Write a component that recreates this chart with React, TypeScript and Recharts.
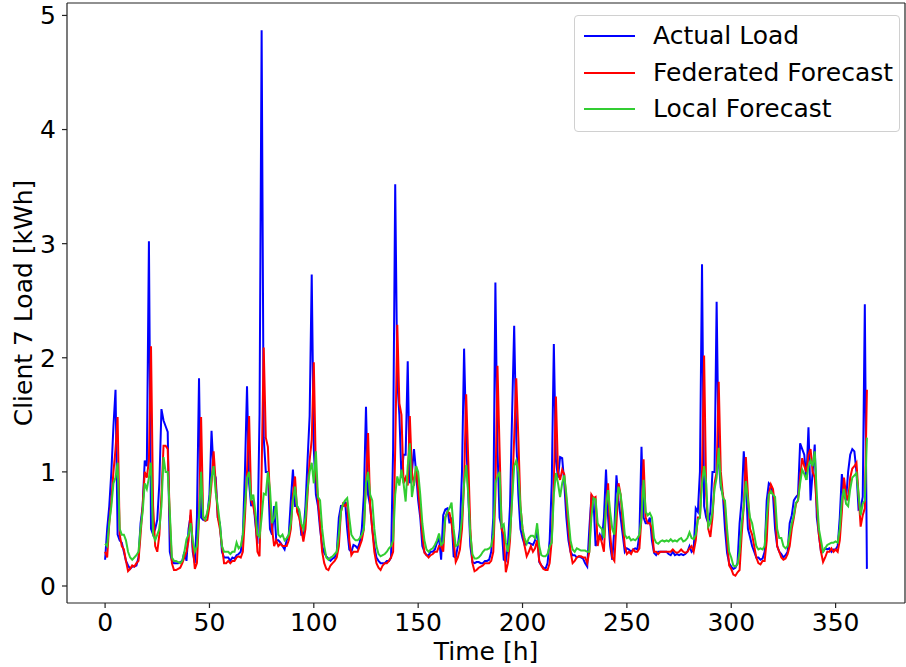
import React from "react";
import { LineChart, Line, XAxis, YAxis } from "recharts";

// hourly values (h = 0 .. 365)
const actualLoad = [
  0.23, 0.5, 0.7, 1.0, 1.4, 1.72, 0.45, 0.4, 0.38, 0.3,
  0.22, 0.18, 0.15, 0.17, 0.17, 0.18, 0.25, 0.55, 0.7, 1.1,
  1.05, 3.02, 0.5, 0.45, 0.5, 0.58, 0.9, 1.55, 1.45, 1.4,
  1.35, 0.3, 0.22, 0.2, 0.2, 0.2, 0.21, 0.22, 0.3, 0.22,
  0.5, 0.62, 0.3, 0.2, 0.6, 1.82, 0.6, 0.58, 0.6, 0.62,
  0.8, 1.36, 1.0, 0.95, 0.6, 0.55, 0.3, 0.25, 0.25, 0.25,
  0.22, 0.25, 0.24, 0.27, 0.28, 0.3, 0.45, 1.0, 1.75, 0.9,
  0.7, 0.75, 0.55, 0.37, 1.5, 4.87, 1.3, 1.0, 1.0, 0.5,
  0.45, 0.7, 0.4, 0.4, 0.38, 0.35, 0.32, 0.4, 0.45, 0.75,
  1.02, 0.7, 0.7, 0.65, 0.45, 0.45, 0.7, 1.1, 1.49, 2.73,
  1.2, 0.8, 0.7, 0.5, 0.35, 0.29, 0.26, 0.24, 0.22, 0.24,
  0.25, 0.3, 0.6, 0.7, 0.7, 0.74, 0.5, 0.32, 0.3, 0.36,
  0.35, 0.33, 0.38, 0.5, 0.8, 1.57, 0.8, 0.7, 0.5, 0.35,
  0.25, 0.22, 0.2, 0.2, 0.2, 0.22, 0.22, 0.25, 1.2, 3.52,
  1.8, 1.5, 0.95, 1.15, 1.15, 1.97, 0.9, 1.0, 1.2, 1.0,
  0.75, 0.6, 0.35, 0.3, 0.27, 0.27, 0.3, 0.3, 0.32, 0.38,
  0.42, 0.23, 0.62, 0.67, 0.68, 0.55, 0.6, 0.26, 0.25, 0.35,
  0.5, 1.0, 2.08, 1.3, 0.8, 0.35, 0.21, 0.2, 0.21, 0.21,
  0.2, 0.2, 0.22, 0.22, 0.23, 0.3, 0.6, 2.66, 1.2, 0.6,
  0.52, 0.23, 0.22, 0.35, 0.7, 1.5, 2.28, 1.3, 0.8, 0.5,
  0.42, 0.36, 0.38, 0.38, 0.37, 0.36, 0.4, 0.5, 0.21, 0.18,
  0.16, 0.15, 0.2, 0.4, 0.9, 2.12, 1.1, 0.95, 1.13, 1.12,
  0.9, 0.6, 0.4, 0.3, 0.27, 0.27, 0.25, 0.26, 0.25, 0.24,
  0.2, 0.17, 0.5, 0.78, 0.75, 0.35, 0.4, 0.45, 0.4, 0.6,
  1.02, 0.6, 0.35, 0.23, 0.5, 0.97, 0.75, 0.6, 0.45, 0.3,
  0.33, 0.32, 0.3, 0.32, 0.33, 0.32, 0.45, 1.22, 0.6, 0.55,
  0.55, 0.6, 0.4, 0.29, 0.27, 0.3, 0.3, 0.3, 0.3, 0.3,
  0.28, 0.27, 0.3, 0.27, 0.28, 0.27, 0.28, 0.27, 0.28, 0.3,
  0.35, 0.3, 0.32, 0.68, 0.65, 1.0, 2.82, 0.7, 0.6, 0.55,
  0.65, 1.0, 1.0, 2.49, 1.1, 0.86, 0.8, 0.5, 0.29, 0.2,
  0.17, 0.15, 0.16, 0.2, 0.55, 0.75, 1.18, 0.9, 0.5, 0.43,
  0.35, 0.3, 0.25, 0.25, 0.23, 0.24, 0.3, 0.75, 0.9, 0.88,
  0.8, 0.5, 0.35, 0.3, 0.28, 0.25, 0.27, 0.3, 0.55, 0.62,
  0.75, 0.78, 0.8, 1.25, 1.2, 1.15, 0.93, 1.39, 0.75, 1.0,
  1.24, 0.6, 0.45, 0.3, 0.3, 0.33, 0.32, 0.33, 0.3, 0.32,
  0.32, 0.35, 0.6, 0.98, 0.8, 0.75, 1.0, 1.15, 1.2, 1.18,
  1.0, 0.67, 0.68, 0.78, 2.47, 0.15,
];

const federatedForecast = [
  0.3, 0.25, 0.55, 0.75, 1.0, 1.2, 1.48, 0.45, 0.35, 0.32,
  0.22, 0.13, 0.15, 0.18, 0.17, 0.2, 0.22, 0.45, 0.7, 1.0,
  0.95, 1.1, 2.1, 0.7, 0.35, 0.3, 0.45, 0.8, 1.23, 1.23,
  1.2, 0.6, 0.2, 0.14, 0.14, 0.15, 0.16, 0.2, 0.25, 0.3,
  0.4, 0.67, 0.35, 0.15, 0.2, 0.6, 1.48, 0.6, 0.57, 0.58,
  0.7, 0.9, 1.18, 0.9, 0.6, 0.5, 0.35, 0.2, 0.2, 0.22,
  0.2, 0.22, 0.22, 0.25, 0.26, 0.25, 0.3, 0.6, 1.0, 1.49,
  0.75, 0.7, 0.6, 0.3, 0.26, 1.0, 2.09, 1.3, 1.22, 0.75,
  0.5, 0.35, 0.4, 0.35, 0.37, 0.35, 0.35, 0.35, 0.4, 0.5,
  0.8, 0.96, 0.65, 0.6, 0.5, 0.39, 0.5, 0.8, 1.1, 1.28,
  1.96, 1.0, 0.75, 0.55, 0.3, 0.2, 0.15, 0.14, 0.18, 0.2,
  0.22, 0.25, 0.35, 0.65, 0.72, 0.7, 0.73, 0.4, 0.27, 0.3,
  0.3, 0.3, 0.35, 0.4, 0.5, 0.9, 1.34, 0.7, 0.5, 0.3,
  0.2, 0.16, 0.14, 0.18, 0.2, 0.2, 0.22, 0.25, 0.3, 1.2,
  2.29, 1.6, 1.5, 0.9, 0.95, 0.88, 1.49, 1.0, 0.88, 1.05,
  0.85, 0.65, 0.45, 0.29, 0.27, 0.25, 0.27, 0.28, 0.3, 0.3,
  0.35, 0.35, 0.3, 0.6, 0.65, 0.64, 0.55, 0.4, 0.21, 0.25,
  0.32, 0.5, 0.9, 1.68, 1.1, 0.5, 0.2, 0.13, 0.14, 0.16,
  0.17, 0.18, 0.2, 0.2, 0.2, 0.22, 0.3, 0.8, 1.93, 1.2,
  0.5, 0.45, 0.12, 0.2, 0.4, 0.8, 1.3, 1.82, 1.3, 0.7,
  0.5, 0.35, 0.26, 0.3, 0.35, 0.3, 0.33, 0.4, 0.22, 0.18,
  0.15, 0.14, 0.14, 0.2, 0.4, 0.9, 1.66, 1.0, 0.93, 1.02,
  0.98, 0.75, 0.5, 0.3, 0.2, 0.22, 0.25, 0.26, 0.26, 0.25,
  0.25, 0.2, 0.3, 0.8, 0.77, 0.78, 0.35, 0.45, 0.38, 0.3,
  0.7, 0.9, 0.45, 0.25, 0.22, 0.55, 0.9, 0.8, 0.55, 0.35,
  0.28, 0.3, 0.28, 0.32, 0.3, 0.3, 0.33, 0.6, 1.11, 0.6,
  0.55, 0.55, 0.5, 0.3, 0.3, 0.28, 0.3, 0.3, 0.3, 0.3,
  0.3, 0.3, 0.32, 0.3, 0.29, 0.3, 0.32, 0.3, 0.29, 0.3,
  0.33, 0.35, 0.3, 0.4, 0.6, 0.6, 1.0, 2.02, 0.8, 0.5,
  0.43, 0.6, 0.9, 1.0, 1.79, 1.0, 0.8, 0.7, 0.4, 0.18,
  0.15, 0.1, 0.09, 0.12, 0.14, 0.45, 0.7, 1.13, 0.8, 0.5,
  0.45, 0.35, 0.25, 0.2, 0.19, 0.22, 0.22, 0.4, 0.8, 0.89,
  0.85, 0.7, 0.35, 0.3, 0.25, 0.23, 0.24, 0.28, 0.35, 0.5,
  0.6, 0.72, 0.75, 0.95, 1.12, 1.05, 1.0, 1.15, 1.2, 1.0,
  0.95, 0.7, 0.45, 0.3, 0.21, 0.25, 0.3, 0.3, 0.33, 0.3,
  0.32, 0.3, 0.4, 0.65, 0.95, 0.8, 0.75, 0.95, 1.03, 1.05,
  1.08, 0.8, 0.52, 0.62, 0.68, 1.72,
];

const localForecast = [
  0.37, 0.35, 0.55, 0.7, 0.9, 0.95, 1.08, 0.5, 0.45, 0.45,
  0.4, 0.3, 0.25, 0.23, 0.25, 0.27, 0.3, 0.5, 0.65, 0.9,
  0.85, 0.95, 1.08, 0.45, 0.4, 0.45, 0.5, 0.7, 1.13, 1.0,
  1.0, 0.65, 0.25, 0.22, 0.22, 0.21, 0.2, 0.22, 0.3, 0.41,
  0.45, 0.55, 0.4, 0.3, 0.35, 0.6, 1.0, 0.6, 0.58, 0.65,
  0.75, 0.95, 1.05, 0.82, 0.7, 0.55, 0.35, 0.3, 0.3, 0.3,
  0.28, 0.3, 0.3, 0.38, 0.33, 0.35, 0.45, 0.7, 0.95, 1.0,
  0.75, 0.8, 0.65, 0.45, 0.43, 0.6, 0.81, 0.8, 1.0, 0.85,
  0.55, 0.6, 0.74, 0.45, 0.43, 0.45, 0.4, 0.42, 0.45, 0.55,
  0.75, 0.87, 0.7, 0.67, 0.55, 0.5, 0.6, 0.85, 1.0, 1.08,
  0.9, 1.18, 0.78, 0.75, 0.5, 0.35, 0.25, 0.23, 0.25, 0.26,
  0.28, 0.3, 0.45, 0.65, 0.72, 0.75, 0.77, 0.6, 0.45, 0.42,
  0.4, 0.4, 0.42, 0.45, 0.5, 0.9, 1.0, 0.8, 0.75, 0.5,
  0.35, 0.28, 0.26, 0.27, 0.28, 0.3, 0.33, 0.35, 0.4, 0.8,
  0.96, 0.88, 1.02, 0.9, 0.74, 1.05, 1.25, 0.78, 0.9, 1.05,
  1.0, 0.8, 0.55, 0.4, 0.32, 0.3, 0.32, 0.33, 0.36, 0.4,
  0.46, 0.36, 0.38, 0.6, 0.65, 0.68, 0.73, 0.5, 0.35, 0.36,
  0.42, 0.6, 0.9, 1.06, 0.8, 0.45, 0.28, 0.24, 0.24, 0.25,
  0.27, 0.3, 0.32, 0.32, 0.33, 0.35, 0.45, 0.9, 0.96, 1.0,
  0.52, 0.54, 0.38, 0.3, 0.45, 0.75, 1.05, 1.1, 1.0, 0.7,
  0.5, 0.42, 0.37, 0.42, 0.44, 0.44, 0.42, 0.55, 0.35, 0.27,
  0.26, 0.26, 0.28, 0.35, 0.38, 0.8, 0.99, 0.9, 0.78, 0.9,
  0.97, 0.8, 0.6, 0.4, 0.32, 0.3, 0.33, 0.32, 0.31, 0.31,
  0.31, 0.3, 0.3, 0.6, 0.77, 0.76, 0.55, 0.52, 0.5, 0.42,
  0.7, 0.84, 0.65, 0.5, 0.45, 0.7, 0.87, 0.8, 0.65, 0.45,
  0.42, 0.43, 0.4, 0.41, 0.4, 0.42, 0.45, 0.6, 0.93, 0.65,
  0.62, 0.64, 0.6, 0.42, 0.38, 0.37, 0.39, 0.4, 0.39, 0.4,
  0.39, 0.41, 0.39, 0.4, 0.39, 0.41, 0.42, 0.39, 0.4, 0.42,
  0.47, 0.42, 0.41, 0.45, 0.58, 0.6, 0.9, 1.05, 0.9, 0.52,
  0.55, 0.65, 0.85, 0.95, 1.21, 0.9, 0.77, 0.75, 0.5, 0.3,
  0.25, 0.18, 0.17, 0.19, 0.3, 0.55, 0.7, 0.92, 0.75, 0.6,
  0.55, 0.45, 0.35, 0.32, 0.33, 0.32, 0.35, 0.6, 0.8, 0.83,
  0.8, 0.78, 0.5, 0.42, 0.42, 0.35, 0.33, 0.35, 0.45, 0.55,
  0.62, 0.73, 0.75, 0.9, 1.02, 0.98, 0.93, 1.05, 1.1, 1.05,
  1.18, 0.8, 0.5, 0.4, 0.3, 0.33, 0.36, 0.37, 0.38, 0.38,
  0.39, 0.38, 0.5, 0.75, 0.85, 0.72, 0.7, 0.85, 0.95, 0.97,
  0.99, 0.8, 0.62, 0.72, 0.75, 1.3,
];

const xTicks = [0, 50, 100, 150, 200, 250, 300, 350];
const yTicks = [0, 1, 2, 3, 4, 5];

const series = [
  { key: "actual", name: "Actual Load", color: "#0000ff" },
  { key: "federated", name: "Federated Forecast", color: "#ff0000" },
  { key: "local", name: "Local Forecast", color: "#32cd32" },
];

const data = actualLoad.map((v, i) => ({
  hour: i,
  actual: v,
  federated: federatedForecast[i],
  local: localForecast[i],
}));

const X_DOMAIN: [number, number] = [-18.25, 383.25];
const Y_DOMAIN: [number, number] = [-0.149, 5.109];

const font = "'DejaVu Sans', sans-serif";
const textStyle = { fontSize: 25, fill: "#000", fontFamily: font };
const spine = { stroke: "#222", strokeWidth: 1.2 };

export default function App() {
  return (
    <div style={{ position: "absolute", left: 0, top: 0, width: 906, height: 667, background: "#fff", fontFamily: font }}>
      <LineChart width={906} height={667} data={data} margin={{ top: 2, right: 0, bottom: 0, left: 0 }}>
        <XAxis
          dataKey="hour"
          type="number"
          domain={X_DOMAIN}
          ticks={xTicks}
          allowDataOverflow
          height={64}
          tickSize={5}
          tickMargin={5}
          tick={textStyle}
          axisLine={spine}
          tickLine={spine}
          label={{ value: "Time [h]", position: "insideBottom", offset: 7, style: textStyle }}
        />
        <XAxis
          xAxisId="top"
          dataKey="hour"
          type="number"
          domain={X_DOMAIN}
          allowDataOverflow
          orientation="top"
          height={1}
          tick={false}
          tickLine={false}
          axisLine={spine}
        />
        <YAxis
          type="number"
          domain={Y_DOMAIN}
          ticks={yTicks}
          allowDataOverflow
          width={67}
          tickSize={5}
          tickMargin={6}
          tick={textStyle}
          axisLine={spine}
          tickLine={spine}
          label={{ value: "Client 7 Load [kWh]", angle: -90, position: "insideLeft", offset: 23, style: { ...textStyle, textAnchor: "middle" } }}
        />
        <YAxis
          yAxisId="right"
          orientation="right"
          type="number"
          domain={Y_DOMAIN}
          allowDataOverflow
          width={1}
          tick={false}
          tickLine={false}
          axisLine={spine}
        />
        {series.map((s) => (
          <Line
            key={s.key}
            type="linear"
            dataKey={s.key}
            stroke={s.color}
            strokeWidth={2}
            dot={false}
            isAnimationActive={false}
          />
        ))}
      </LineChart>
      <div
        style={{
          position: "absolute",
          left: 574,
          top: 15,
          width: 326,
          height: 117,
          boxSizing: "border-box",
          border: "1px solid #d0d0d0",
          borderRadius: 4,
          background: "rgba(255,255,255,0.8)",
          paddingTop: 2,
        }}
      >
        {series.map((s) => (
          <div key={s.key} style={{ display: "flex", alignItems: "center", height: 36.5 }}>
            <div style={{ marginLeft: 9, width: 51, height: 2, background: s.color }} />
            <span style={{ marginLeft: 18, fontSize: 25, color: "#000", lineHeight: "28px" }}>{s.name}</span>
          </div>
        ))}
      </div>
    </div>
  );
}
